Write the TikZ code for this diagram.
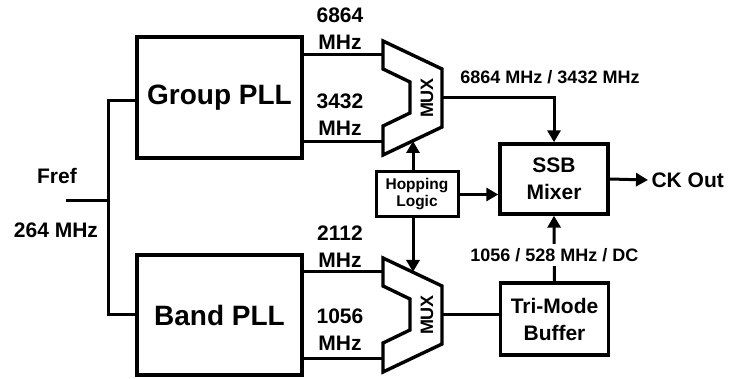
\documentclass[tikz,border=0pt]{standalone}
\usepackage{fontspec}
\setmainfont{Liberation Sans}
\usetikzlibrary{arrows.meta, positioning, calc}

\begin{document}
\begin{tikzpicture}[
    x=1pt, y=-1pt,
    block/.style={draw, line width=3.4pt, minimum width=108pt, minimum height=70pt, align=center, font=\fontsize{21}{27}\selectfont\bfseries},
    pll/.style={block, minimum width=165pt, minimum height=121pt, font=\fontsize{28}{34}\selectfont\bfseries},
    freq/.style={align=center, font=\fontsize{21}{27}\selectfont\bfseries},
    small/.style={font=\fontsize{18}{22}\selectfont\bfseries},
    wire/.style={line width=3pt},
    arrow/.style={wire, -{Triangle[length=12pt, width=13pt]}}
]
\useasboundingbox (0,0) rectangle (737,379);

% PLLs
\node[pll] (gpll) at (219.5,97.5) {Group PLL};
\node[pll, minimum height=120pt] (bpll) at (219.5,315) {Band PLL};

% Muxes
\foreach \n/\dy in {g/0, b/217} {
    \begin{scope}[shift={(0,\dy)}]
        \draw[line width=3.4pt] (383,41) -- (442,69) -- (442,127) -- (383,155) -- (383,126) -- (410,113) -- (410,82) -- (383,69) -- cycle;
        \node[small, rotate=90] (\n mux) at (427,98) {MUX};
        \coordinate (\n in1) at (383,55);
        \coordinate (\n in2) at (383,142);
        \coordinate (\n out) at (442,98);
    \end{scope}
}
\coordinate (gsel) at (413,141);
\coordinate (bsel) at (413,272);

% Blocks
\node[block, minimum width=82pt, minimum height=45pt, line width=3pt, font=\fontsize{15.5}{17}\selectfont\bfseries] (hop) at (417,194.5) {Hopping\\Logic};
\node[block] (mixer) at (554,179) {SSB\\Mixer};
\node[block, minimum height=72pt] (buffer) at (554.5,319) {Tri-Mode\\Buffer};

% Reference input
\coordinate (fref) at (66,201);
\coordinate (split) at (108,201);
\draw[wire] (fref) -- (split);
\draw[wire] ([yshift=-3.5pt]gpll.west) -| (split) |- (bpll.west);
\node[freq] (freflab) at (57,176) {Fref};
\node[freq] (reflab) at (56,230) {264 MHz};

% PLL outputs
\draw[wire] (gin1 -| gpll.east) -- (gin1);
\draw[wire] (gin2 -| gpll.east) -- (gin2);
\draw[wire] (bin1 -| bpll.east) -- (bin1);
\draw[wire] (bin2 -| bpll.east) -- (bin2);
\node[freq] (g1lab) at (340,28.5) {6864\\MHz};
\node[freq] (g2lab) at (340,115) {3432\\MHz};
\node[freq] (b1lab) at (340,246.5) {2112\\MHz};
\node[freq] (b2lab) at (340,330) {1056\\MHz};

% Hopping control
\draw[arrow] (hop.north -| gsel) -- (gsel);
\draw[arrow] (hop.south -| bsel) -- (bsel);
\draw[arrow] (hop.east) -- (hop.east -| mixer.west);

% Mixer paths
\draw[arrow] (gout) -| (mixer.north);
\node[small] (glab) at (550,77) {6864 MHz / 3432 MHz};
\draw[wire] (bout) -- (bout -| buffer.west);
\draw[arrow] (buffer.north) -- node[small, fill=white, pos=0.4, inner sep=4pt] (blab) {1056 / 528 MHz / DC} (mixer.south);

% Output
\node[freq, anchor=west] (ckout) at (648,180) {CK Out};
\draw[arrow] (mixer.east) -- (ckout.west);

\end{tikzpicture}
\end{document}
